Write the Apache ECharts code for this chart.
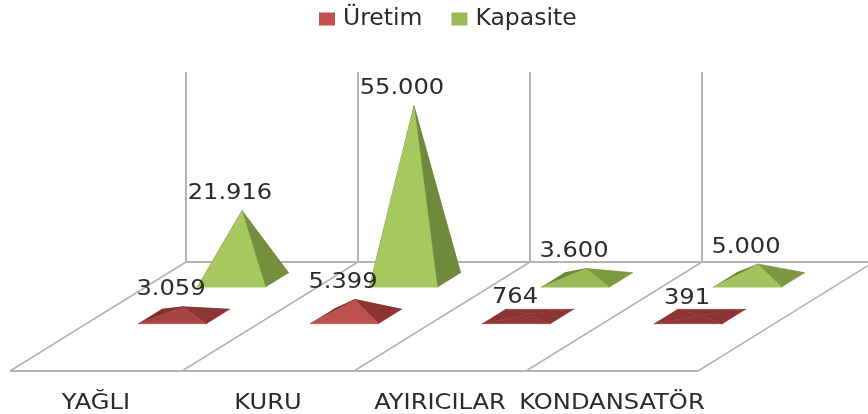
<!DOCTYPE html>
<html>
<head>
<meta charset="utf-8">
<style>
  html, body { margin: 0; padding: 0; background: #fff; }
  #chart { width: 868px; height: 414px; }
</style>
</head>
<body>
<div id="chart"></div>
<script src="https://cdn.jsdelivr.net/npm/echarts@6/dist/echarts.min.js"></script>
<script>
const categories = ['YAĞLI', 'KURU', 'AYIRICILAR', 'KONDANSATÖR'];
const uretim = [3059, 5399, 764, 391];
const kapasite = [21916, 55000, 3600, 5000];

const FONT = '"DejaVu Sans", sans-serif';
const TEXT = '#2b2b2b';
const LINE = '#b4b4b4';

// the floor leans left going toward the viewer: full depth in pixels
const FLOOR_DX = -176;
const FLOOR_DY = 109;
const STRETCH = 1.15;

const chart = echarts.init(document.getElementById('chart'));

const pyramidItem = (depth, colors) => (params, api) => {
  const base = api.coord([api.value(0), 0]);
  const top = api.coord([api.value(0), api.value(1)]);
  const cx = base[0] + FLOOR_DX * depth;
  const cy = base[1] + FLOOR_DY * depth;
  const h = base[1] - top[1];
  const halfW = 34;
  const halfD = 0.066;
  const corner = (sx, sd) => [
    cx + sx * halfW + FLOOR_DX * sd * halfD,
    cy + FLOOR_DY * sd * halfD
  ];
  const fl = corner(-1, 1);
  const fr = corner(1, 1);
  const br = corner(1, -1);
  const bl = corner(-1, -1);
  const apex = [cx - 1, cy - h];
  const slope = Math.min(h / 18, 1);
  const front = echarts.color.lerp(slope, [colors.flat, colors.front]);
  const left = echarts.color.lerp(slope, [colors.flat, colors.left]);
  const right = echarts.color.lerp(Math.min(h / 100, 1), [colors.flat, colors.right]);
  const face = (a, b, fill) => ({
    type: 'polygon',
    shape: { points: [a, b, apex] },
    style: { fill: fill, stroke: fill, lineWidth: 0.5 }
  });
  return {
    type: 'group',
    children: [
      face(bl, br, colors.flat),
      face(fl, bl, left),
      face(br, fr, right),
      face(fl, fr, front),
      {
        type: 'text',
        x: apex[0] - 12,
        y: apex[1] - 17,
        scaleX: STRETCH,
        style: {
          text: String(api.value(1)).replace(/\B(?=(\d{3})+$)/g, '.'),
          font: '21px ' + FONT,
          fill: TEXT,
          align: 'center',
          verticalAlign: 'middle'
        }
      }
    ]
  };
};

const floorItem = (params, api) => {
  const i = params.dataIndex;
  const c = api.coord([i, 0]);
  const band = api.size([1, 0])[0];
  const edge = (x) => ({
    type: 'line',
    shape: { x1: x, y1: c[1], x2: x + FLOOR_DX, y2: c[1] + FLOOR_DY },
    style: { stroke: LINE, lineWidth: 1.5 }
  });
  const children = [
    edge(c[0] - band / 2),
    {
      type: 'line',
      shape: {
        x1: c[0] - band / 2 + FLOOR_DX,
        y1: c[1] + FLOOR_DY,
        x2: c[0] + band / 2 + FLOOR_DX,
        y2: c[1] + FLOOR_DY
      },
      style: { stroke: LINE, lineWidth: 2 }
    },
    {
      type: 'text',
      x: c[0] + FLOOR_DX,
      y: c[1] + FLOOR_DY + 33,
      scaleX: STRETCH,
      style: {
        text: categories[i],
        font: '21px ' + FONT,
        fill: TEXT,
        align: 'center',
        verticalAlign: 'middle'
      }
    }
  ];
  if (i === categories.length - 1) children.push(edge(c[0] + band / 2));
  return { type: 'group', children: children };
};

const toData = (values) => values.map((v, i) => [i, v]);

chart.setOption({
  animation: false,
  legend: {
    left: 314,
    top: 2,
    itemWidth: 16,
    itemHeight: 13,
    itemGap: 29,
    textStyle: { fontFamily: FONT, fontSize: 23.5, color: TEXT, padding: [0, 0, 0, 3] },
    data: [
      { name: 'Üretim', icon: 'rect' },
      { name: 'Kapasite', icon: 'rect' }
    ]
  },
  grid: { left: 186, width: 688, top: 72, height: 190, outerBoundsMode: 'none' },
  xAxis: {
    type: 'category',
    data: categories,
    axisTick: { show: false },
    axisLabel: { show: false },
    axisLine: { lineStyle: { color: LINE, width: 2 } },
    splitLine: { show: true, lineStyle: { color: LINE, width: 2 } }
  },
  yAxis: {
    type: 'value',
    min: 0,
    max: 60000,
    show: false
  },
  series: [
    {
      type: 'custom',
      name: 'floor',
      z: 1,
      silent: true,
      renderItem: floorItem,
      data: toData(categories.map(() => 0))
    },
    {
      type: 'custom',
      name: 'Üretim',
      z: 3,
      itemStyle: { color: '#c0504d' },
      renderItem: pyramidItem(0.5, { flat: '#8c3432', front: '#c0504d', right: '#943a38', left: '#7a2d2b' }),
      encode: { x: 0, y: 1 },
      data: toData(uretim)
    },
    {
      type: 'custom',
      name: 'Kapasite',
      z: 2,
      itemStyle: { color: '#9bbb59' },
      renderItem: pyramidItem(0.165, { flat: '#7f9c42', front: '#a6c95f', right: '#6f8a3c', left: '#5f7a2e' }),
      encode: { x: 0, y: 1 },
      data: toData(kapasite)
    }
  ]
});
</script>
</body>
</html>
